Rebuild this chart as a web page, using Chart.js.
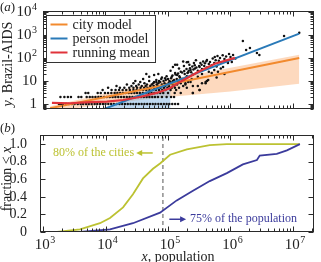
<!DOCTYPE html>
<html><head><meta charset="utf-8">
<script src="https://cdn.jsdelivr.net/npm/chart.js@4.4.0/dist/chart.umd.min.js"></script>
<style>
html,body{margin:0;padding:0;background:#fff;overflow:hidden;width:321px;height:262px}
#wa{position:absolute;left:0;top:0;width:321px;height:122px}
#wb{position:absolute;left:0;top:122px;width:321px;height:140px}
</style></head><body>
<div id="wa"><canvas id="ca" width="321" height="122"></canvas></div>
<div id="wb"><canvas id="cb" width="321" height="140"></canvas></div>
<script>
// ---------- DATA: panel (a) ----------
// scatter: cities with 1..10 cases (population values per case count)
const pop1 = [1800,1950,2100,2350,2600,2900,3200,3600,4000,4400,4900,5400,6000,6700,7400,8200,9100,10000,11100,12300,13600,15100,16700,18500,20500,22700,25200,27900,30900,34200,37900,42000,46500,51500,57000,63000,70000,77500,86000,95000,105000,117000,130000,145000];
const pop2 = [1900,2200,2500,2800,3700,4100,5000,5600,6200,6900,7700,8500,9500,10500,11700,13000,14400,16000,17800,19700,21900,24300,27000,30000,33300,37000,41000,45500,50500,56000,62000,69000,80000,95000,112000,125000];
const pop3 = [4800,5300,7500,8400,9800,11000,12400,14000,15500,17200,19000,21000,23500,26000,29000,32000,35500,39500,44000,49000,54500,60500,67000,75000,84000,100000,128000,160000,250000];
const pop4 = [9000,12500,14500,16500,18800,21500,24500,28000,31500,35500,40000,45000,50500,57000,64000,72000,81000,91000,110000,135000,320000];
const pop5 = [11000,17000,20000,24000,28000,32000,36500,41500,47000,53000,60000,67500,76000,86000,98000,115000,150000,200000];
const pop6 = [15000,26000,31000,38000,44000,52000,59000,68000,78000,90000,104000,125000,175000,300000];
const pop7 = [22000,34000,46000,55000,66000,80000,95000,118000,140000,190000];
const pop8 = [28000,42000,58000,70000,88000,102000,130000,160000,350000,400000];
const pop9 = [36000,60000,65000,75000,110000,150000,210000];
const pop10 = [30000,50000,72000,85000,120000,145000,180000,420000];
// scatter: larger counts (population, cases)
const otherPop   = [40000,65000,90000,100000,115000,125000,140000,155000,170000,185000,200000,95000,80000,130000,160000,210000,230000,250000,270000,300000,320000,350000,380000,420000,450000,500000,550000,600000,650000,700000,800000,900000,1000000,1200000,150000,180000,220000,260000,190000,240000,300000,350000,450000,550000,700000,120000,110000,130000,175000,200000,280000,230000,250000,60000,70000,50000,45000,210000,140000,420000,560000,250000,320000,400000,440000,500000,630000,760000,910000,1050000,129000,115000,1100000,1580000,2050000,1780000,2650000,2900000,7200000,12600000,
  78000,92000,105000,112000,118000,132000,138000,145000,152000,168000,182000,198000,205000,215000,225000,235000,245000,255000,268000,285000,315000,330000,345000,365000,390000,410000,470000,520000,580000,620000,680000,750000,850000,950000,600000,800000];
const otherCases = [12,11,13,12,15,11,18,14,12,20,16,16,14,22,25,24,30,19,35,28,40,33,45,38,55,48,60,42,75,65,90,70,110,95,35,45,50,60,8,12,15,20,25,30,35,40,28,50,70,65,80,9,6,18,20,15,20,67,50,82,110,3,4,9,11,22,25,40,60,67,5,8,135,550,270,220,165,135,900,1230,
  12,11,10,13,17,19,12,21,16,23,27,33,22,28,36,24,42,31,48,38,45,60,50,70,58,72,66,95,80,120,100,130,115,150,14,20];
// city model (fit line) and its band
const cityModelPop = [1300, 12600000];
const cityModelVal = [0.65, 100];
const cityBandPop = [1300, 10000, 100000, 1000000, 12600000];
const cityBandHi  = [0.79, 2.8, 11.2, 37, 138];
const cityBandLo  = [0.45, 1.0, 2.0, 3.5, 7.5];
// person model (fit line) and its band
const personModelPop = [9500, 12600000];
const personModelVal = [0.6, 1135];
const personBandPop = [9500, 110000];
const personBandHi  = [0.6, 8];
const personBandLo  = [0.6, 0.6];
// running mean
const runMeanPop = [1390, 2690, 5620, 10500, 19100, 35500, 66100, 107000, 166000, 302000, 562000, 1175000];
const runMeanVal = [1.1, 1.07, 1.2, 1.26, 1.48, 2.0, 3.0, 4.8, 10, 24.5, 56, 100];
const yTicksA = [1, 10, 100, 1000, 10000];

// ---------- DATA: panel (b) ----------
const cityCdfPop = [1675, 3900, 8150, 11800, 19100, 27500, 39800, 57500, 74600, 108000, 200000, 466000, 875000, 12900000];
const cityCdf    = [0, 0.03, 0.1, 0.16, 0.28, 0.43, 0.61, 0.72, 0.78, 0.88, 0.94, 0.99, 1.0, 1.0];
const popCdfPop  = [3900, 11800, 27500, 74600, 138000, 251000, 466000, 875000, 1580000, 2650000, 2940000, 5500000, 8000000, 12900000];
const popCdf     = [0, 0.03, 0.1, 0.22, 0.36, 0.47, 0.58, 0.67, 0.77, 0.82, 0.87, 0.89, 0.93, 1.0];
const thresholdPop = 83000;
const xTicks = [1e3, 1e4, 1e5, 1e6, 1e7];
const yTicksB = [0, 0.2, 0.4, 0.6, 0.8, 1.0];

// ---------- styles ----------
const cOrange = '#f28a2e', cBlue = '#2a7ab8', cRed = '#e0333a';
const bandOrange = 'rgba(250,170,110,0.45)', bandBlue = 'rgba(130,180,225,0.5)';
const cYellow = '#bcc232', cPurple = '#3b3b9c';
const FONT = "'Liberation Serif', 'Times New Roman', serif";
Chart.defaults.font.family = FONT;
Chart.defaults.color = '#222';

const zip = (xs, ys) => xs.map((x, i) => ({x, y: ys[i]}));

const scatterPts = [];
[[1,pop1],[2,pop2],[3,pop3],[4,pop4],[5,pop5],[6,pop6],[7,pop7],[8,pop8],[9,pop9],[10,pop10]]
  .forEach(([c, arr]) => arr.forEach(p => scatterPts.push({x: p, y: c})));
otherPop.forEach((p, i) => scatterPts.push({x: p, y: otherCases[i]}));

function logTickValues(min, max) {
  const out = [];
  for (let d = Math.floor(Math.log10(min)); d <= Math.ceil(Math.log10(max)); d++) {
    for (let m = 1; m <= 9; m++) {
      const v = m * Math.pow(10, d);
      if (v >= min * 0.999 && v <= max * 1.001) out.push({v, major: m === 1});
    }
  }
  return out;
}
// power-of-ten label with a real raised exponent
function powLabel(ctx, v, x, y, align) {
  const e = Math.round(Math.log10(v));
  const base = e === 0 ? '1' : '10', ex = e >= 2 ? String(e) : '';
  ctx.font = '15px ' + FONT; const wb = ctx.measureText(base).width;
  ctx.font = '10px ' + FONT; const we = ex ? ctx.measureText(ex).width + 0.5 : 0;
  const tot = wb + we, start = align === 'right' ? x - tot : x - tot / 2;
  ctx.textAlign = 'left'; ctx.textBaseline = 'middle'; ctx.fillStyle = '#222';
  ctx.font = '15px ' + FONT; ctx.fillText(base, start, y);
  if (ex) { ctx.font = '10px ' + FONT; ctx.fillText(ex, start + wb + 0.5, y - 5); }
}
const frameTicks = {
  id: 'frameTicks',
  afterDatasetsDraw(chart, args, o) {
    const {ctx, chartArea: ca, scales: {x, y}} = chart;
    ctx.save();
    ctx.strokeStyle = '#2a2a2a'; ctx.lineWidth = 1;
    const L = Math.round(ca.left) + 0.5, R = Math.round(ca.right) - 0.5, T = Math.round(ca.top) + 0.5, B = Math.round(ca.bottom) - 0.5;
    ctx.beginPath();
    for (const t of logTickValues(x.min, x.max)) {
      const p = Math.round(x.getPixelForValue(t.v)) + 0.5, len = t.major ? 5 : 3;
      ctx.moveTo(p, B); ctx.lineTo(p, B - len); ctx.moveTo(p, T); ctx.lineTo(p, T + len);
    }
    const yt = y.type === 'logarithmic' ? logTickValues(y.min, y.max) : yTicksB.map(v => ({v, major: true}));
    for (const t of yt) {
      const p = Math.round(y.getPixelForValue(t.v)) + 0.5, len = t.major ? 5 : 3;
      ctx.moveTo(L, p); ctx.lineTo(L + len, p); ctx.moveTo(R, p); ctx.lineTo(R - len, p);
    }
    ctx.stroke();
    ctx.strokeRect(L, T, R - L, B - T);
    ctx.restore();
  }
};
function mixedText(ctx, parts, cx, cy, size) {
  let w = 0;
  parts.forEach(([t, it]) => { ctx.font = (it ? 'italic ' : '') + size + 'px ' + FONT; w += ctx.measureText(t).width; });
  let xx = cx - w / 2;
  parts.forEach(([t, it]) => { ctx.font = (it ? 'italic ' : '') + size + 'px ' + FONT; ctx.fillText(t, xx, cy); xx += ctx.measureText(t).width; });
}
function panelLabel(ctx, letter, x, y) {
  ctx.font = '13px ' + FONT; ctx.textAlign = 'left'; ctx.textBaseline = 'middle';
  const a = ctx.measureText('(').width; ctx.fillText('(', x, y);
  ctx.font = 'italic 13px ' + FONT; const b = ctx.measureText(letter).width; ctx.fillText(letter, x + a, y);
  ctx.font = '13px ' + FONT; ctx.fillText(')', x + a + b, y);
}
const decorA = {
  id: 'decorA',
  afterDraw(chart) {
    const {ctx, scales: {y}, chartArea: ca} = chart; ctx.save();
    // legend
    const bx = 46.5, by = 15.5, bw = 109, bh = 47;
    ctx.fillStyle = '#fff'; ctx.fillRect(bx, by, bw, bh);
    ctx.strokeStyle = '#333'; ctx.lineWidth = 1; ctx.strokeRect(bx, by, bw, bh);
    const items = [['city model', cOrange], ['person model', cBlue], ['running mean', cRed]];
    ctx.font = '14px ' + FONT; ctx.textBaseline = 'middle'; ctx.textAlign = 'left';
    items.forEach(([t, c], i) => {
      const yy = by + 9 + i * 14;
      ctx.strokeStyle = c; ctx.lineWidth = 2; ctx.beginPath(); ctx.moveTo(bx + 4, yy); ctx.lineTo(bx + 21, yy); ctx.stroke();
      ctx.fillStyle = '#222'; ctx.fillText(t, bx + 26, yy + 0.5);
    });
    // tick labels
    yTicksA.forEach(v => powLabel(ctx, v, ca.left - 6, y.getPixelForValue(v), 'right'));
    // axis title
    ctx.fillStyle = '#222'; ctx.textBaseline = 'middle'; ctx.textAlign = 'left';
    ctx.translate(8, 64); ctx.rotate(-Math.PI / 2);
    mixedText(ctx, [['y', true], [', Brazil-AIDS', false]], 0, 0, 14);
    ctx.setTransform(1, 0, 0, 1, 0, 0);
    ctx.fillStyle = '#222';
    panelLabel(ctx, 'a', 0, 8);
    ctx.restore();
  }
};
function arrow(ctx, x0, x1, y, color) {
  ctx.strokeStyle = color; ctx.fillStyle = color; ctx.lineWidth = 1.5;
  const dir = Math.sign(x1 - x0);
  ctx.beginPath(); ctx.moveTo(x0, y); ctx.lineTo(x1 - dir * 5, y); ctx.stroke();
  ctx.beginPath(); ctx.moveTo(x1, y); ctx.lineTo(x1 - dir * 6, y - 3); ctx.lineTo(x1 - dir * 6, y + 3); ctx.closePath(); ctx.fill();
}
const annCityPop = 1450, annCityFrac = 0.9, arrCityFrom = 57000, arrCityTo = 31000;
const annPopPop = 225000, annPopFrac = 0.145, arrPopFrom = 105000, arrPopTo = 195000;
const decorB = {
  id: 'decorB',
  afterDraw(chart) {
    const {ctx, scales: {x, y}, chartArea: ca} = chart; ctx.save();
    ctx.font = '12px ' + FONT; ctx.textBaseline = 'middle'; ctx.textAlign = 'left';
    ctx.fillStyle = cYellow;
    ctx.fillText('80% of the cities', x.getPixelForValue(annCityPop), y.getPixelForValue(annCityFrac));
    arrow(ctx, x.getPixelForValue(arrCityFrom), x.getPixelForValue(arrCityTo), y.getPixelForValue(annCityFrac), cYellow);
    ctx.fillStyle = cPurple;
    ctx.font = '12px ' + FONT;
    ctx.fillText('75% of the population', x.getPixelForValue(annPopPop), y.getPixelForValue(annPopFrac));
    arrow(ctx, x.getPixelForValue(arrPopFrom), x.getPixelForValue(arrPopTo), y.getPixelForValue(annPopFrac), cPurple);
    // x tick labels
    xTicks.forEach(v => powLabel(ctx, v, x.getPixelForValue(v) + 2, ca.bottom + 13, 'center'));
    ctx.fillStyle = '#222'; ctx.textBaseline = 'middle'; ctx.textAlign = 'left';
    mixedText(ctx, [['x', true], [', population', false]], 178, 135, 14);
    ctx.translate(7, 57); ctx.rotate(-Math.PI / 2);
    mixedText(ctx, [['fraction < ', false], ['x', true]], 0, 0, 14);
    ctx.setTransform(1, 0, 0, 1, 0, 0);
    ctx.fillStyle = '#222';
    panelLabel(ctx, 'b', 0, 7);
    ctx.restore();
  }
};

const common = {responsive: false, devicePixelRatio: 1, animation: false,
  plugins: {legend: {display: false}, tooltip: {enabled: false}}, events: []};

new Chart(document.getElementById('ca'), {
  type: 'scatter',
  data: {datasets: [
    {type: 'line', data: zip(cityBandPop, cityBandHi), fill: '+1', backgroundColor: bandOrange, borderWidth: 0, pointRadius: 0, order: 9},
    {type: 'line', data: zip(cityBandPop, cityBandLo), fill: false, borderWidth: 0, pointRadius: 0, order: 9},
    {type: 'line', data: zip(personBandPop, personBandHi), fill: '+1', backgroundColor: bandBlue, borderWidth: 0, pointRadius: 0, order: 8},
    {type: 'line', data: zip(personBandPop, personBandLo), fill: false, borderWidth: 0, pointRadius: 0, order: 8},
    {type: 'scatter', data: scatterPts, pointRadius: 1.25, backgroundColor: '#111', borderWidth: 0, order: 5},
    {type: 'line', data: zip(cityModelPop, cityModelVal), borderColor: cOrange, borderWidth: 2, pointRadius: 0, order: 3},
    {type: 'line', data: zip(personModelPop, personModelVal), borderColor: cBlue, borderWidth: 2, pointRadius: 0, order: 2},
    {type: 'line', data: zip(runMeanPop, runMeanVal), borderColor: cRed, borderWidth: 2.2, pointRadius: 0, order: 1}
  ]},
  options: Object.assign({}, common, {
    layout: {padding: {left: 0, right: 7, top: 11, bottom: 0}},
    scales: {
      x: {type: 'logarithmic', min: 1000, max: 2.17e7, grid: {display: false}, border: {display: false},
          ticks: {display: false}, afterFit: s => { s.height = 13; }},
      y: {type: 'logarithmic', min: 0.6, max: 1.1e4, grid: {display: false}, border: {display: false},
          afterBuildTicks: s => { s.ticks = yTicksA.map(v => ({value: v})); },
          ticks: {display: false},
          afterFit: s => { s.width = 43; }}
    }
  }),
  plugins: [frameTicks, decorA]
});

new Chart(document.getElementById('cb'), {
  type: 'line',
  data: {datasets: [
    {data: [{x: thresholdPop, y: 0}, {x: thresholdPop, y: 1.1}], borderColor: '#555', borderWidth: 1, borderDash: [4, 3], pointRadius: 0, order: 3},
    {data: zip(cityCdfPop, cityCdf), borderColor: cYellow, borderWidth: 1.8, pointRadius: 0, order: 2},
    {data: zip(popCdfPop, popCdf), borderColor: cPurple, borderWidth: 1.8, pointRadius: 0, order: 1}
  ]},
  options: Object.assign({}, common, {
    layout: {padding: {left: 0, right: 7, top: 11, bottom: 0}},
    scales: {
      x: {type: 'logarithmic', min: 895, max: 2.17e7, grid: {display: false}, border: {display: false},
          afterBuildTicks: s => { s.ticks = xTicks.map(v => ({value: v})); },
          ticks: {display: false},
          afterFit: s => { s.height = 30; }},
      y: {type: 'linear', min: 0, max: 1.1, grid: {display: false}, border: {display: false},
          afterBuildTicks: s => { s.ticks = yTicksB.map(v => ({value: v})); },
          ticks: {callback: v => v === 0 ? '0' : v.toFixed(1), font: {size: 14}, padding: 5, color: '#222', autoSkip: false},
          afterFit: s => { s.width = 40; }}
    }
  }),
  plugins: [frameTicks, decorB]
});
</script>
</body></html>
